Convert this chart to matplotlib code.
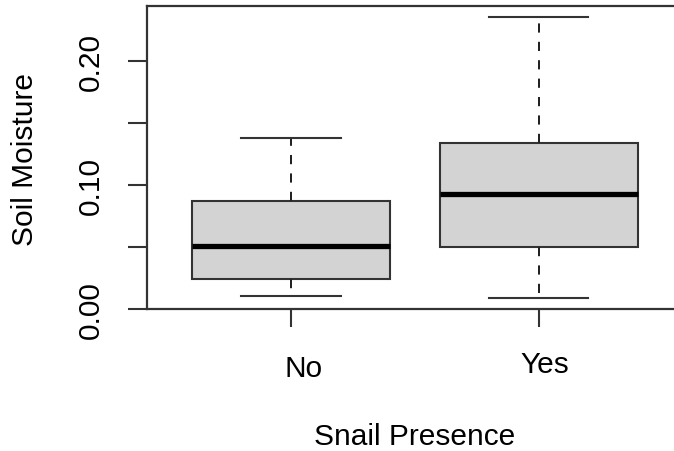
#boxplot of soil moisture by snail presence (R style)

# importing required libraries
import matplotlib
matplotlib.use("Agg")
import matplotlib.pyplot as plt
from matplotlib.ticker import FixedLocator

#data
categories = ["No", "Yes"]
whisker_low = [0.0099, 0.0088]
q1 = [0.0240, 0.0494]
median = [0.0502, 0.0927]
q3 = [0.0871, 0.1333]
whisker_high = [0.1379, 0.2347]
ytick_values = [0.00, 0.05, 0.10, 0.15, 0.20]
ytick_labels = ["0.00", "", "0.10", "", "0.20"]

xlabel = "Snail Presence"
ylabel = "Soil Moisture"

plt.rcParams['font.family'] = ['Liberation Sans', 'DejaVu Sans']
FS = 21.5
EDGE = '#333333'

fig = plt.figure(figsize=(6.74, 4.52), dpi=100)
ax = fig.add_axes([0.2185, 0.3142, 0.794, 0.6697])

#building the stats that bxp wants
stats = []
for i in range(len(categories)):
    stats.append(dict(label=categories[i], whislo=whisker_low[i], q1=q1[i],
                      med=median[i], q3=q3[i], whishi=whisker_high[i], fliers=[]))

positions = list(range(1, len(categories) + 1))
ax.bxp(stats, positions=positions, widths=0.8, capwidths=0.4,
       patch_artist=True, showfliers=False,
       boxprops=dict(facecolor='#d3d3d3', edgecolor=EDGE, linewidth=1.5),
       medianprops=dict(color='black', linewidth=3.8, solid_capstyle='butt'),
       whiskerprops=dict(color='#222222', linewidth=1.44, linestyle=(0, (4.6, 4.6))),
       capprops=dict(color=EDGE, linewidth=1.5))

#R pads the range by 4% on each side
lo = min(whisker_low)
hi = max(whisker_high)
pad = 0.04 * (hi - lo)
ax.set_ylim(lo - pad, hi + pad)
ax.set_xlim(0.5 - 0.04 * len(categories), len(categories) + 0.5 + 0.04 * len(categories))

#axis ticks
ax.yaxis.set_major_locator(FixedLocator(ytick_values))
ax.set_yticklabels(ytick_labels, rotation=90, va='center', fontsize=FS)
ax.tick_params(axis='y', length=13.7, width=1.5, color=EDGE, pad=16.5)
ax.set_xticks(positions)
ax.set_xticklabels([])
ax.tick_params(axis='x', length=13, width=1.5, color=EDGE)

for s in ax.spines.values():
    s.set_linewidth(1.6)
    s.set_color(EDGE)

#category labels (slightly off the ticks, like the reference)
label_offsets = [(13, -67), (6, -63)]
for pos, name, off in zip(positions, categories, label_offsets):
    ax.annotate(name, xy=(pos, 0), xycoords=('data', 'axes fraction'),
                xytext=off, textcoords='offset pixels',
                ha='center', va='baseline', fontsize=FS)

#axis titles
fig.text(415 / 674, 1 - 445 / 452, xlabel, ha='center', va='baseline', fontsize=FS)
fig.text(33 / 674, 1 - 160 / 452, ylabel, ha='center', va='baseline',
         rotation=90, rotation_mode='anchor', fontsize=FS)

plt.savefig('out.png', dpi=100)
